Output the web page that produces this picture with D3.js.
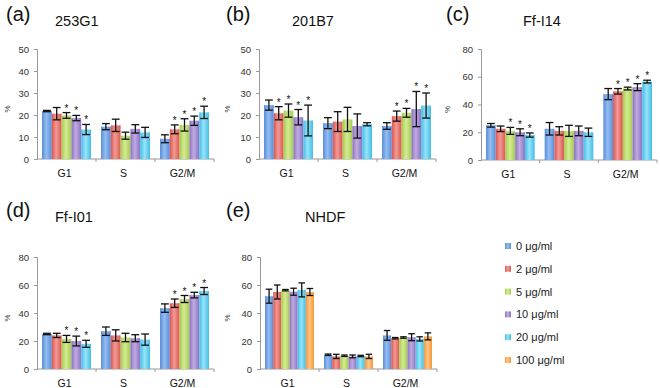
<!DOCTYPE html>
<html>
<head>
<meta charset="utf-8">
<script src="https://cdn.jsdelivr.net/npm/d3@7"></script>
<style>
  body { margin: 0; background: #fff; }
  text { font-family: Arial, "Liberation Sans", sans-serif; }
</style>
</head>
<body>
<script>
const width = 660;
const height = 388;

const categories = ['G1', 'S', 'G2/M'];
const doses = ['0 μg/ml', '2 μg/ml', '5 μg/ml', '10 μg/ml', '20 μg/ml', '100 μg/ml'];
const edgeColors = ['#5a8ed8', '#dc5650', '#a5cb50', '#8c72c0', '#45bde6', '#f5983a'];
const midColors = ['#93bdf2', '#f29a94', '#d4ec92', '#c0abe2', '#95e4f8', '#ffc585'];

// 253G1
const a_mean = [[21.8, 20.6, 19.8, 18.6, 13.4], [14.7, 15.3, 10.6, 13.7, 12.1], [9.2, 13.5, 15.5, 17.4, 21.2]];
const a_err = [[0.3, 2.8, 1.3, 1.2, 2.3], [1.4, 2.8, 1.6, 1.9, 2.3], [1.8, 2.0, 2.8, 2.1, 2.8]];
const a_star = [[0, 0, 1, 1, 1], [0, 0, 0, 0, 0], [0, 1, 1, 1, 1]];
// 201B7
const b_mean = [[24.5, 20.8, 22.0, 19.0, 17.5], [16.3, 17.0, 18.0, 15.0, 15.8], [15.0, 19.5, 21.0, 22.7, 24.3]];
const b_err = [[2.3, 3.0, 3.0, 3.5, 7.0], [2.5, 4.5, 5.5, 5.5, 0.7], [1.5, 2.3, 2.0, 8.0, 5.7]];
const b_star = [[0, 1, 1, 1, 1], [0, 0, 0, 0, 0], [0, 1, 1, 1, 1]];
// Ff-I14
const c_mean = [[25.0, 22.5, 21.0, 20.0, 18.0], [22.5, 21.0, 21.0, 21.0, 20.0], [47.5, 49.5, 51.5, 52.5, 56.5]];
const c_err = [[1.3, 2.0, 2.5, 2.5, 1.5], [4.5, 3.0, 4.0, 3.5, 3.0], [4.0, 2.0, 1.0, 2.5, 1.0]];
const c_star = [[0, 0, 1, 1, 1], [0, 0, 0, 0, 0], [0, 1, 1, 1, 1]];
// Ff-I01
const d_mean = [[25.0, 24.0, 21.5, 20.0, 18.0], [27.0, 24.0, 22.5, 22.0, 21.0], [43.5, 47.0, 50.0, 52.8, 55.7]];
const d_err = [[0.5, 1.5, 2.5, 3.5, 2.5], [3.0, 4.0, 3.0, 2.5, 4.0], [3.0, 3.0, 2.5, 2.0, 2.5]];
const d_star = [[0, 0, 1, 1, 1], [0, 0, 0, 0, 0], [0, 1, 1, 1, 1]];
// NHDF
const e_mean = [[52.0, 55.0, 56.3, 55.2, 56.5, 55.0], [10.2, 9.0, 9.5, 9.0, 9.3, 9.0], [24.0, 22.0, 22.5, 22.7, 21.5, 23.3]];
const e_err = [[5.0, 5.0, 0.5, 2.5, 5.0, 2.5], [0.5, 1.5, 0.5, 1.0, 0.5, 1.5], [3.5, 0.5, 0.5, 2.5, 1.5, 2.5]];
const e_star = [[0, 0, 0, 0, 0, 0], [0, 0, 0, 0, 0, 0], [0, 0, 0, 0, 0, 0]];

const ticks50 = [0, 10, 20, 30, 40, 50];
const ticks80 = [0, 20, 40, 60, 80];

// ox/oy = panel offset, nx = name x, x0..x1 = x axis, yb/yt = y of 0 and of the top tick
const panels = [
    { tag: '(a)', name: '253G1', mean: a_mean, err: a_err, star: a_star, ticks: ticks50, ox: 0, oy: 0, nx: 55, x0: 37, x1: 214, yb: 159, yt: 49 },
    { tag: '(b)', name: '201B7', mean: b_mean, err: b_err, star: b_star, ticks: ticks50, ox: 220, oy: 0, nx: 72, x0: 39, x1: 216, yb: 159, yt: 49 },
    { tag: '(c)', name: 'Ff-I14', mean: c_mean, err: c_err, star: c_star, ticks: ticks80, ox: 440, oy: 0, nx: 83, x0: 41, x1: 217, yb: 160, yt: 49 },
    { tag: '(d)', name: 'Ff-I01', mean: d_mean, err: d_err, star: d_star, ticks: ticks80, ox: 0, oy: 196, nx: 55, x0: 37, x1: 214, yb: 173, yt: 61 },
    { tag: '(e)', name: 'NHDF', mean: e_mean, err: e_err, star: e_star, ticks: ticks80, ox: 220, oy: 196, nx: 85, x0: 40, x1: 217, yb: 173, yt: 61 }
];

const svg = d3.select('body').append('svg')
    .attr('width', width)
    .attr('height', height);

const defs = svg.append('defs');
doses.forEach((d, i) => {
    const grad = defs.append('linearGradient')
        .attr('id', 'grad' + i)
        .attr('x1', '0%').attr('x2', '100%').attr('y1', '0%').attr('y2', '0%');
    grad.append('stop').attr('offset', '0%').attr('stop-color', edgeColors[i]);
    grad.append('stop').attr('offset', '45%').attr('stop-color', midColors[i]);
    grad.append('stop').attr('offset', '100%').attr('stop-color', edgeColors[i]);
});

panels.forEach(p => {
    const g = svg.append('g').attr('transform', `translate(${p.ox},${p.oy})`);
    const nDose = p.mean[0].length;
    const yMax = p.ticks[p.ticks.length - 1];

    const x = d3.scaleBand().domain(categories).range([p.x0, p.x1]);
    const xInner = d3.scaleBand().domain(d3.range(nDose))
        .range([5, x.bandwidth() - 5]);
    const y = d3.scaleLinear().domain([0, yMax]).range([p.yb, p.yt]);

    g.append('text').attr('x', 6).attr('y', 21)
        .attr('font-size', 20).attr('fill', '#111').text(p.tag);
    g.append('text').attr('x', p.nx)
        .attr('y', 26).attr('font-size', 14.5).attr('fill', '#111').text(p.name);

    // y axis
    const yAxis = g.append('g').attr('transform', `translate(${p.x0},0)`)
        .call(d3.axisLeft(y).tickValues(p.ticks).tickSize(3).tickPadding(5));
    yAxis.select('.domain').attr('stroke', '#999');
    yAxis.selectAll('.tick line').attr('stroke', '#999');
    yAxis.selectAll('.tick text').attr('font-size', 9.5).attr('fill', '#333')
        .attr('font-family', 'Arial, "Liberation Sans", sans-serif');

    g.append('text')
        .attr('transform', `translate(10,${(p.yb + p.yt) / 2 + 5}) rotate(-90)`)
        .attr('text-anchor', 'middle').attr('font-size', 8).attr('fill', '#333').text('%');

    // x axis
    g.append('line').attr('x1', p.x0).attr('x2', p.x1).attr('y1', p.yb).attr('y2', p.yb)
        .attr('stroke', '#999');
    categories.forEach(c => {
        g.append('line').attr('x1', x(c) + x.step()).attr('x2', x(c) + x.step())
            .attr('y1', p.yb).attr('y2', p.yb + 3).attr('stroke', '#999');
    });
    g.selectAll('.cat').data(categories).enter().append('text')
        .attr('x', c => x(c) + x.bandwidth() / 2 - 2)
        .attr('y', p.yb + 18)
        .attr('text-anchor', 'middle').attr('font-size', 10.5).attr('fill', '#111')
        .text(c => c);

    // bars
    const bars = [];
    categories.forEach((c, ci) => {
        p.mean[ci].forEach((v, di) => {
            bars.push({ c: c, d: di, v: v, e: p.err[ci][di], s: p.star[ci][di] });
        });
    });

    g.selectAll('.bar').data(bars).enter().append('rect')
        .attr('x', b => x(b.c) + xInner(b.d))
        .attr('y', b => y(b.v))
        .attr('width', xInner.bandwidth())
        .attr('height', b => p.yb - y(b.v))
        .attr('fill', b => `url(#grad${b.d})`);

    const cap = xInner.bandwidth() * 0.4;
    const eb = g.selectAll('.err').data(bars).enter().append('g')
        .attr('stroke', '#111').attr('stroke-width', 1.3);
    eb.append('line')
        .attr('x1', b => x(b.c) + xInner(b.d) + xInner.bandwidth() / 2)
        .attr('x2', b => x(b.c) + xInner(b.d) + xInner.bandwidth() / 2)
        .attr('y1', b => y(b.v + b.e)).attr('y2', b => y(b.v - b.e));
    eb.append('line')
        .attr('x1', b => x(b.c) + xInner(b.d) + xInner.bandwidth() / 2 - cap)
        .attr('x2', b => x(b.c) + xInner(b.d) + xInner.bandwidth() / 2 + cap)
        .attr('y1', b => y(b.v + b.e)).attr('y2', b => y(b.v + b.e));
    eb.append('line')
        .attr('x1', b => x(b.c) + xInner(b.d) + xInner.bandwidth() / 2 - cap)
        .attr('x2', b => x(b.c) + xInner(b.d) + xInner.bandwidth() / 2 + cap)
        .attr('y1', b => y(b.v - b.e)).attr('y2', b => y(b.v - b.e));

    g.selectAll('.star').data(bars.filter(b => b.s)).enter().append('text')
        .attr('x', b => x(b.c) + xInner(b.d) + xInner.bandwidth() / 2)
        .attr('y', b => y(b.v + b.e) - 1)
        .attr('text-anchor', 'middle').attr('font-size', 10).attr('fill', '#111')
        .text('*');
});

// legend
const legend = svg.append('g');
doses.forEach((d, i) => {
    const ly = 246 + i * 22.8;
    legend.append('rect').attr('x', 505).attr('y', ly - 3).attr('width', 6).attr('height', 6)
        .attr('fill', `url(#grad${i})`);
    legend.append('text').attr('x', 516).attr('y', ly + 4)
        .attr('font-size', 11).attr('fill', '#222').text(d);
});
</script>
</body>
</html>
